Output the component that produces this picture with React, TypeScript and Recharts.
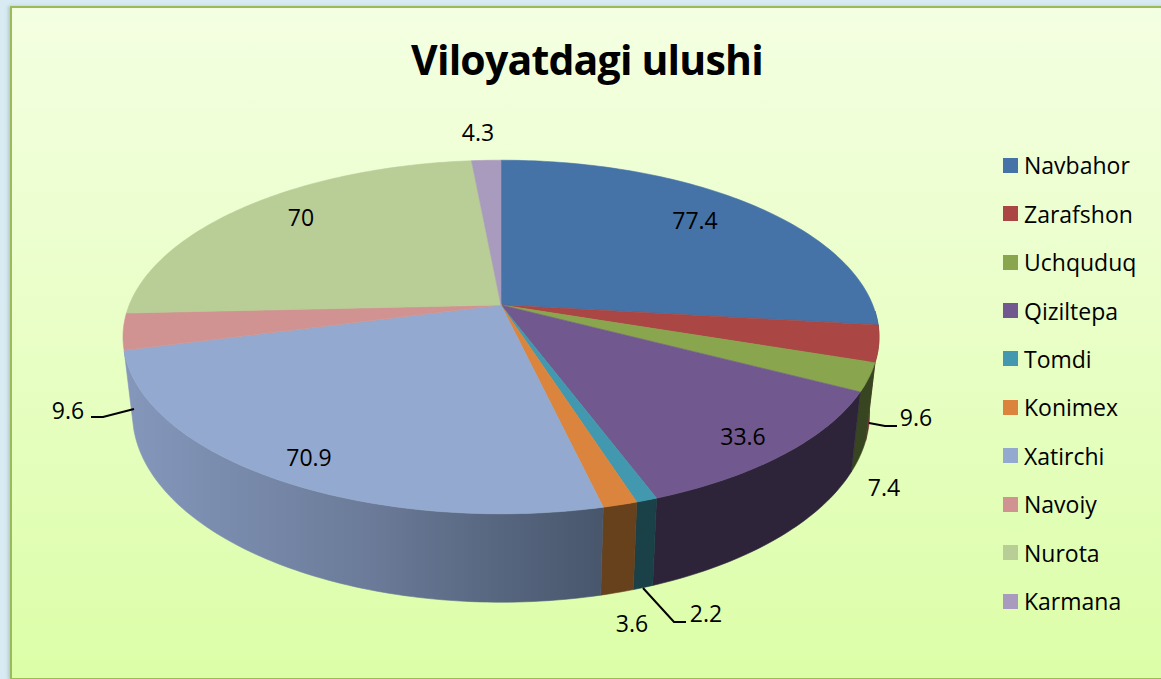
import { PieChart, Pie, Legend } from "recharts";

const districts = ["Navbahor", "Zarafshon", "Uchquduq", "Qiziltepa", "Tomdi", "Konimex", "Xatirchi", "Navoiy", "Nurota", "Karmana"];
const shares = [77.4, 9.6, 7.4, 33.6, 2.2, 3.6, 70.9, 9.6, 70, 4.3];
const topColors = ["#4572a7", "#aa4643", "#89a54e", "#71588f", "#4198af", "#db843d", "#93a9cf", "#d19392", "#b9cd96", "#a99bbd"];
const wallColors = ["#2c4568", "#6b2c2a", "#374620", "#2e243a", "#1a4048", "#67401c", "url(#xatirchiWall)", "#825b5a", "#74805e", "#6a6176"];

// where each value label sits, and its leader line if it has one
const labelSpots = [
    { x: 695, y: 220 },
    { x: 916, y: 417, line: "M869 423 L885 426 L897 426" },
    { x: 884, y: 487 },
    { x: 743, y: 436 },
    { x: 706, y: 613, line: "M643 588 L674 622 L686 622" },
    { x: 632, y: 623 },
    { x: 309, y: 457 },
    { x: 68, y: 410, line: "M134 409 L103 417 L91 417" },
    { x: 301, y: 217 },
    { x: 478, y: 132 },
];

const FONT = "'Open Sans', sans-serif";
const RADIUS = 378;
const TILT = 0.181; // perspective, near edge looks bigger than far edge
const FLAT = 0.4524; // vertical squash of the disc
const WALL_X = 0.975;
const WALL_Y = 1.069;
const WALL_DROP = 74;
const WALL_FROM = 92;
const WALL_TO = 255;

const topRows = districts.map((name, i) => ({ name, value: shares[i], fill: topColors[i] }));
const wallRows = districts.map((name, i) => ({ name, value: shares[i], fill: wallColors[i] }));

// recharts angle -> clockwise from 12 o'clock, projected on the tilted disc
function project(clock: number, r: number) {
    const rad = (clock * Math.PI) / 180;
    const u = Math.sin(rad);
    const v = -Math.cos(rad);
    const w = 1 - TILT * v;
    return {
        x: (r * Math.sqrt(1 - TILT * TILT) * u) / w,
        y: (r * FLAT * v) / w,
    };
}

function arc(from: number, to: number, r: number) {
    const pts = [];
    const steps = Math.max(2, Math.ceil(Math.abs(to - from)));
    for (let i = 0; i <= steps; i++) {
        pts.push(project(from + ((to - from) * i) / steps, r));
    }
    return pts;
}

function TopSlice(props: any) {
    const { cx, cy, outerRadius, startAngle, endAngle, fill } = props;
    const pts = arc(90 - startAngle, 90 - endAngle, outerRadius);
    const d = `M${cx} ${cy} ` + pts.map((p) => `L${cx + p.x} ${cy + p.y}`).join(" ") + " Z";
    return <path d={d} fill={fill} stroke={fill} strokeWidth={0.6} />;
}

function WallSlice(props: any) {
    const { cx, cy, outerRadius, startAngle, endAngle, fill } = props;
    const from = Math.max(90 - startAngle, WALL_FROM);
    const to = Math.min(90 - endAngle, WALL_TO);
    if (to <= from) return <g />;
    const upper = arc(from, to, outerRadius).map((p) => [cx + p.x, cy + p.y]);
    const lower = arc(to, from, outerRadius).map((p) => [cx + p.x * WALL_X, cy + p.y * WALL_Y + WALL_DROP]);
    const d = "M" + [...upper, ...lower].map((p) => `${p[0]} ${p[1]}`).join(" L") + " Z";
    return <path d={d} fill={fill} stroke={fill} strokeWidth={0.6} />;
}

function ValueLabel(props: any) {
    const spot = labelSpots[props.index];
    return (
        <g>
            {spot.line && <path d={spot.line} fill="none" stroke="#000" strokeWidth={2} />}
            <text x={spot.x} y={spot.y} textAnchor="middle" dominantBaseline="central" fontFamily={FONT} fontSize={23} fill="#000">
                {shares[props.index]}
            </text>
        </g>
    );
}

function LegendList({ payload }: any) {
    // both pies report to the legend, only the top faces belong in it
    const items = (payload ?? []).filter((item: any) => topColors.includes(item.color));
    return (
        <div style={{ fontFamily: FONT, fontSize: 23, color: "#000" }}>
            {items.map((item: any) => (
                <div key={item.value} style={{ display: "flex", alignItems: "center", height: 48.45 }}>
                    <span style={{ width: 15, height: 15, background: item.color, marginRight: 6 }} />
                    <span>{item.value}</span>
                </div>
            ))}
        </div>
    );
}

export default function App() {
    return (
        <div style={{ position: "absolute", left: 0, top: 0, width: 1161, height: 679, overflow: "hidden", background: "#d8ebf3" }}>
            <div
                style={{
                    position: "absolute",
                    left: 10,
                    top: 6,
                    width: 1160,
                    height: 670,
                    border: "2px solid #9bbb59",
                    background: "linear-gradient(180deg, #f4ffe2 0%, #dcfea8 100%)",
                    boxShadow: "-2px 0 3px rgba(120,140,150,0.35)",
                }}
            />
            <div style={{ position: "absolute", left: 287, width: 600, top: 30, textAlign: "center", fontFamily: FONT, fontWeight: 700, fontSize: 41, letterSpacing: -0.8, lineHeight: "58px", color: "#000" }}>
                Viloyatdagi ulushi
            </div>
            <div style={{ position: "absolute", left: 0, top: 0 }}>
                <PieChart width={1161} height={679} margin={{ top: 0, right: 0, bottom: 0, left: 0 }}>
                    <defs>
                        <linearGradient id="xatirchiWall" gradientUnits="userSpaceOnUse" x1={130} y1={0} x2={605} y2={0}>
                            <stop offset="0%" stopColor="#8497bb" />
                            <stop offset="50%" stopColor="#6b7b99" />
                            <stop offset="100%" stopColor="#47566b" />
                        </linearGradient>
                    </defs>
                    <Pie
                        data={wallRows}
                        dataKey="value"
                        nameKey="name"
                        cx={501}
                        cy={305}
                        outerRadius={RADIUS}
                        startAngle={90}
                        endAngle={-270}
                        stroke="none"
                        legendType="none"
                        shape={WallSlice}
                        isAnimationActive={false}
                    />
                    <Pie
                        data={topRows}
                        dataKey="value"
                        nameKey="name"
                        cx={501}
                        cy={305}
                        outerRadius={RADIUS}
                        startAngle={90}
                        endAngle={-270}
                        stroke="none"
                        shape={TopSlice}
                        label={ValueLabel}
                        labelLine={false}
                        isAnimationActive={false}
                    />
                    <Legend
                        layout="vertical"
                        align="right"
                        verticalAlign="top"
                        itemSorter={null}
                        content={LegendList}
                        wrapperStyle={{ position: "absolute", left: 1003, top: 141, width: 158 }}
                    />
                </PieChart>
            </div>
        </div>
    );
}
